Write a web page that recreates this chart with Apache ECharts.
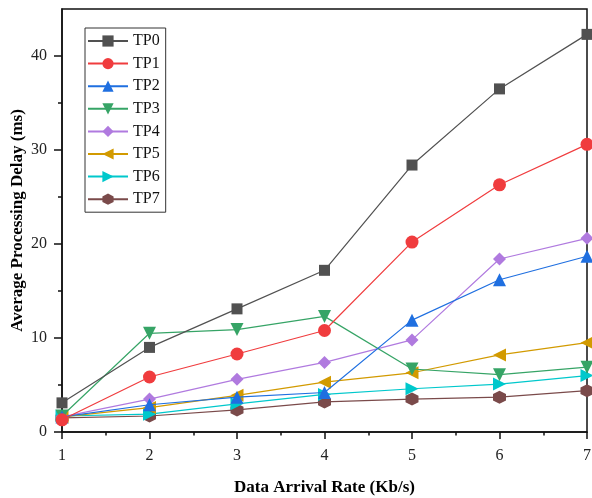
<!DOCTYPE html>
<html><head><meta charset="utf-8">
<script src="https://cdn.jsdelivr.net/npm/echarts@6/dist/echarts.min.js"></script>
<style>html,body{margin:0;padding:0;background:#fff}#c{width:592px;height:498px}</style>
</head><body><div id="c"></div>
<script>
const rates = [1, 2, 3, 4, 5, 6, 7];
const seriesNames = ['TP0','TP1','TP2','TP3','TP4','TP5','TP6','TP7'];
const TP0 = [3.1, 9.0, 13.1, 17.2, 28.4, 36.5, 42.3];
const TP1 = [1.3, 5.85, 8.3, 10.8, 20.2, 26.3, 30.6];
const TP2 = [1.6, 2.9, 3.7, 4.2, 11.9, 16.2, 18.7];
const TP3 = [1.7, 10.5, 10.9, 12.3, 6.7, 6.1, 6.9];
const TP4 = [1.6, 3.5, 5.6, 7.4, 9.8, 18.4, 20.6];
const TP5 = [1.6, 2.6, 3.9, 5.3, 6.3, 8.2, 9.5];
const TP6 = [1.7, 1.9, 3.0, 4.0, 4.6, 5.1, 6.0];
const TP7 = [1.5, 1.7, 2.35, 3.2, 3.5, 3.7, 4.4];
const yTicks = [0, 10, 20, 30, 40];
const yMinorTicks = [5, 15, 25, 35];

const allData = [TP0, TP1, TP2, TP3, TP4, TP5, TP6, TP7];
const colors = ['#515151','#F03C3E','#1F6FE0','#36A466','#B07ADF','#D29A00','#00C8CC','#7A4A4A'];
const hex = 'path://M50,0 L93.3,25 L93.3,75 L50,100 L6.7,75 L6.7,25 Z';
const symbols = ['rect','circle','triangle','triangle','diamond','triangle','triangle',hex];
const rotates = [0,0,0,180,0,90,-90,0];
const sizes = [11,13,13,13,13,13,13,13];
const font = '"Liberation Serif","Times New Roman",serif';

const chart = echarts.init(document.getElementById('c'));
chart.setOption({
  animation: false,
  grid: {left: 62, right: 5, top: 9, bottom: 66, containLabel: false, outerBoundsMode: 'none',
         show: true, borderColor: '#111', borderWidth: 1.5, backgroundColor: 'transparent'},
  legend: {
    orient: 'vertical', left: 85, top: 28, data: seriesNames,
    borderColor: '#333', borderWidth: 1, padding: [5, 6, 5, 2],
    itemWidth: 40, itemHeight: 14, itemGap: 6.6,
    textStyle: {fontFamily: font, fontSize: 16, color: '#111'}
  },
  xAxis: {
    type: 'value', min: 1, max: 7, interval: 1,
    name: 'Data Arrival Rate (Kb/s)', nameLocation: 'middle', nameGap: 47,
    nameTextStyle: {fontFamily: font, fontSize: 17, fontWeight: 'bold', color: '#000'},
    axisLine: {lineStyle: {color: '#111', width: 1.5}},
    axisTick: {show: true, inside: false, length: 7, lineStyle: {color: '#111', width: 1.5}},
    minorTick: {show: true, splitNumber: 2, length: 3.5, lineStyle: {color: '#111', width: 1.5}},
    axisLabel: {fontFamily: font, fontSize: 16, color: '#222', margin: 16},
    splitLine: {show: false}
  },
  yAxis: [{
    type: 'value', min: 0, max: 45, interval: 5,
    name: 'Average Processing Delay (ms)', nameLocation: 'middle', nameGap: 36, nameMoveOverlap: false,
    nameTextStyle: {fontFamily: font, fontSize: 17, fontWeight: 'bold', color: '#000'},
    axisLine: {show: true, lineStyle: {color: '#111', width: 1.5}},
    axisTick: {show: true, inside: false, length: 8, customValues: yTicks, lineStyle: {color: '#111', width: 1.5}},
    axisLabel: {fontFamily: font, fontSize: 16, color: '#222', margin: 15, customValues: yTicks},
    splitLine: {show: false}
  }, {
    type: 'value', min: 0, max: 45, interval: 5, position: 'left',
    axisLine: {show: false},
    axisTick: {show: true, inside: false, length: 4, customValues: yMinorTicks, lineStyle: {color: '#111', width: 1.5}},
    axisLabel: {show: false},
    splitLine: {show: false}
  }],
  series: seriesNames.map((n, i) => ({
    name: n, type: 'line',
    data: rates.map((r, j) => [r, allData[i][j]]),
    symbol: symbols[i], symbolSize: sizes[i], symbolRotate: rotates[i],
    showAllSymbol: true, clip: false,
    lineStyle: {width: 1.2, color: colors[i]},
    itemStyle: {color: colors[i]},
    z: 10 - i
  }))
});
</script></body></html>
